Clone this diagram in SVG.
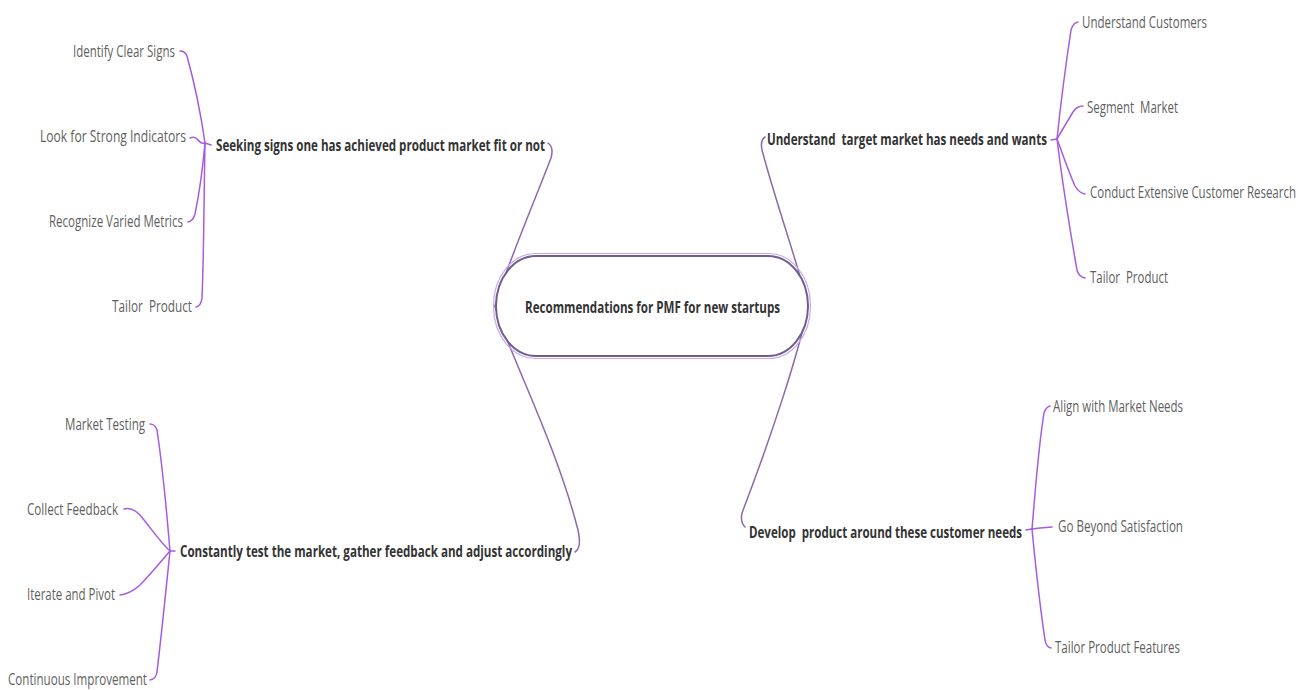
<svg xmlns="http://www.w3.org/2000/svg" width="1308" height="690" viewBox="0 0 1308 690">
<style>
  .main{font-family:"Open Sans","Noto Sans","Liberation Sans",sans-serif;font-weight:700;font-size:16.5px;fill:#333333;white-space:pre}
  .child{font-family:"Open Sans","Noto Sans","Liberation Sans",sans-serif;font-weight:400;font-size:15.5px;fill:#5f5f5f;white-space:pre}
  .core{font-family:"Open Sans","Noto Sans","Liberation Sans",sans-serif;font-weight:700;font-size:16px;fill:#333333;white-space:pre}
  .c{fill:none;stroke-width:1.5;stroke-linecap:round}
  .cm{stroke:#8a69ad}
  .cc{stroke:#a65be0}
</style>
<rect width="1308" height="690" fill="#ffffff"/>
<g id="connectors">
  <path class="c cm" d="M495 306 C505 270 535 200 551 158 Q554 147 548 143"/>
  <path class="c cm" d="M495 306 C505 345 555 440 578 530 Q582 548 575 552"/>
  <path class="c cm" d="M808 306 C800 270 775 200 762 150 Q760 140 765 137"/>
  <path class="c cm" d="M808 306 C800 350 770 440 742 513 Q740 522 745 527"/>
  <path class="c cc" d="M180 51 Q185 51 187 56 C195 85 201 115 205 143"/>
  <path class="c cc" d="M190 138 Q195 136 198 140 Q201 144 205 143"/>
  <path class="c cc" d="M188 222 Q193 221 195 214 C200 190 203 165 205 143"/>
  <path class="c cc" d="M196 307 Q201 306 202 298 C204 250 204 190 205 143"/>
  <path class="c cc" d="M205 143 L211 145"/>
  <path class="c cc" d="M150 424 Q155 424 157 430 C163 470 167 515 170 551"/>
  <path class="c cc" d="M124 509 Q132 507 140 515 C150 527 160 542 170 551"/>
  <path class="c cc" d="M120 595 Q130 594 140 585 C152 573 162 560 170 551"/>
  <path class="c cc" d="M150 680 Q156 679 157 672 C162 630 166 590 170 551"/>
  <path class="c cc" d="M170 551 L175 551"/>
  <path class="c cc" d="M1078 22 Q1073 23 1071 30 C1065 70 1060 110 1057 139"/>
  <path class="c cc" d="M1083 106 Q1077 106 1073 112 C1067 122 1061 132 1057 139"/>
  <path class="c cc" d="M1085 194 Q1079 193 1075 186 C1068 170 1062 152 1057 139"/>
  <path class="c cc" d="M1085 278 Q1079 277 1077 270 C1070 230 1062 180 1057 139"/>
  <path class="c cc" d="M1057 139 L1051 140"/>
  <path class="c cc" d="M1050 406 Q1046 407 1044 413 C1038 450 1035 495 1032 529"/>
  <path class="c cc" d="M1052 527 L1040 528 L1032 529"/>
  <path class="c cc" d="M1051 648 Q1046 647 1045 640 C1039 600 1035 560 1032 529"/>
  <path class="c cc" d="M1032 529 L1026 530"/>
</g>
<g id="center">
  <rect x="493.5" y="253.5" width="317" height="105" rx="42" ry="52" fill="none" stroke="#c9a7ee" stroke-width="1.2"/>
  <rect x="496" y="256" width="312" height="100" rx="40" ry="50" fill="#ffffff" stroke="#6f5f90" stroke-width="2"/>
  <text class="core" x="525" y="313" textLength="255" lengthAdjust="spacingAndGlyphs">Recommendations for PMF for new startups</text>
</g>
<g id="branch-seeking">
  <text class="main" x="216" y="151" textLength="329" lengthAdjust="spacingAndGlyphs">Seeking signs one has achieved product market fit or not</text>
</g>
<g id="branch-test">
  <text class="main" x="180" y="557" textLength="392" lengthAdjust="spacingAndGlyphs">Constantly test the market, gather feedback and adjust accordingly</text>
</g>
<g id="branch-understand">
  <text class="main" x="767" y="145" textLength="280" lengthAdjust="spacingAndGlyphs" xml:space="preserve">Understand  target market has needs and wants</text>
</g>
<g id="branch-develop">
  <text class="main" x="749" y="538" textLength="273" lengthAdjust="spacingAndGlyphs" xml:space="preserve">Develop  product around these customer needs</text>
</g>
<g id="n-identify"><text class="child" x="73" y="57" textLength="102" lengthAdjust="spacingAndGlyphs">Identify Clear Signs</text></g>
<g id="n-look"><text class="child" x="40" y="142" textLength="146" lengthAdjust="spacingAndGlyphs">Look for Strong Indicators</text></g>
<g id="n-recognize"><text class="child" x="49" y="227" textLength="134" lengthAdjust="spacingAndGlyphs">Recognize Varied Metrics</text></g>
<g id="n-tailor-left"><text class="child" x="112" y="312" textLength="80" lengthAdjust="spacingAndGlyphs" xml:space="preserve">Tailor  Product</text></g>
<g id="n-market-testing"><text class="child" x="65" y="430" textLength="80" lengthAdjust="spacingAndGlyphs">Market Testing</text></g>
<g id="n-collect"><text class="child" x="27" y="515" textLength="91" lengthAdjust="spacingAndGlyphs">Collect Feedback</text></g>
<g id="n-iterate"><text class="child" x="27" y="600" textLength="88" lengthAdjust="spacingAndGlyphs">Iterate and Pivot</text></g>
<g id="n-continuous"><text class="child" x="8" y="685" textLength="139" lengthAdjust="spacingAndGlyphs">Continuous Improvement</text></g>
<g id="n-understand-customers"><text class="child" x="1082" y="28" textLength="125" lengthAdjust="spacingAndGlyphs">Understand Customers</text></g>
<g id="n-segment"><text class="child" x="1087" y="113" textLength="91" lengthAdjust="spacingAndGlyphs" xml:space="preserve">Segment  Market</text></g>
<g id="n-conduct"><text class="child" x="1090" y="198" textLength="206" lengthAdjust="spacingAndGlyphs">Conduct Extensive Customer Research</text></g>
<g id="n-tailor-right"><text class="child" x="1090" y="283" textLength="78" lengthAdjust="spacingAndGlyphs" xml:space="preserve">Tailor  Product</text></g>
<g id="n-align"><text class="child" x="1053" y="412" textLength="130" lengthAdjust="spacingAndGlyphs">Align with Market Needs</text></g>
<g id="n-beyond"><text class="child" x="1058" y="532" textLength="125" lengthAdjust="spacingAndGlyphs">Go Beyond Satisfaction</text></g>
<g id="n-features"><text class="child" x="1055" y="653" textLength="125" lengthAdjust="spacingAndGlyphs">Tailor Product Features</text></g>
</svg>
